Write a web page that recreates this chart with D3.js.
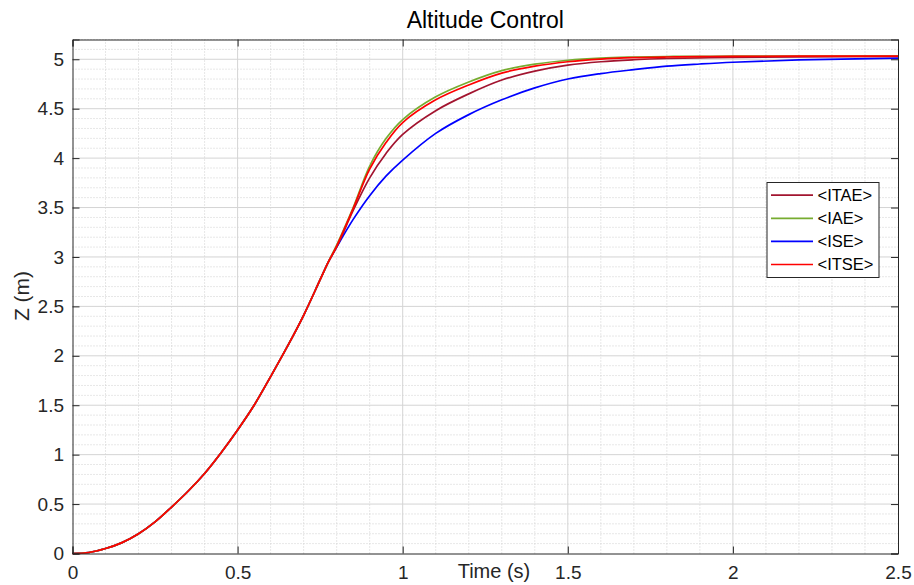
<!DOCTYPE html>
<html>
<head>
<meta charset="utf-8">
<script src="https://cdn.jsdelivr.net/npm/d3@7"></script>
<style>
  body { margin: 0; background: #fff; overflow: hidden; }
  svg { display: block; font-family: "Liberation Sans", Arial, sans-serif; }
</style>
</head>
<body>
<div id="chart"></div>
<script>
// common rise, all four controllers overlap here
const timeShared = [0, 0.05, 0.1, 0.15, 0.2, 0.25, 0.3, 0.35, 0.4, 0.45, 0.5, 0.55, 0.6, 0.65, 0.7, 0.75, 0.775];
const zShared = [0, 0.01, 0.05, 0.11, 0.2, 0.32, 0.47, 0.63, 0.81, 1.02, 1.25, 1.5, 1.79, 2.09, 2.41, 2.77, 2.95];

// after the split
const timeTail = [0.8, 0.85, 0.9, 0.95, 1.0, 1.1, 1.2, 1.3, 1.4, 1.5, 1.6, 1.7, 1.8, 1.9, 2.0, 2.2, 2.5];
const itae = [3.1, 3.47, 3.8, 4.05, 4.24, 4.48, 4.65, 4.79, 4.88, 4.94, 4.975, 4.995, 5.008, 5.015, 5.02, 5.025, 5.03];
const iae  = [3.12, 3.5, 3.92, 4.2, 4.39, 4.62, 4.77, 4.885, 4.95, 4.99, 5.012, 5.022, 5.028, 5.03, 5.032, 5.032, 5.032];
const ise  = [3.1, 3.38, 3.62, 3.82, 3.98, 4.25, 4.44, 4.59, 4.71, 4.8, 4.855, 4.895, 4.93, 4.952, 4.97, 4.993, 5.012];
const itse = [3.11, 3.49, 3.89, 4.16, 4.36, 4.59, 4.74, 4.86, 4.93, 4.975, 5.002, 5.016, 5.023, 5.027, 5.03, 5.031, 5.031];

const seriesNames = ["<ITAE>", "<IAE>", "<ISE>", "<ITSE>"];
const seriesColors = ["#A2142F", "#77AC30", "#0000FF", "#FF0000"];
const seriesValues = [itae, iae, ise, itse];

const xTicks = [0, 0.5, 1, 1.5, 2, 2.5];
const yTicks = [0, 0.5, 1, 1.5, 2, 2.5, 3, 3.5, 4, 4.5, 5];

const width = 914, height = 585;
const margin = { top: 39.5, right: 16, bottom: 31.5, left: 72.5 };
const innerWidth = width - margin.left - margin.right;
const innerHeight = height - margin.top - margin.bottom;

const svg = d3.select("#chart").append("svg")
    .attr("width", width)
    .attr("height", height);

const g = svg.append("g")
    .attr("transform", `translate(${margin.left},${margin.top})`);

const x = d3.scaleLinear().domain([0, 2.5]).range([0, innerWidth]);
const y = d3.scaleLinear().domain([0, 5.2]).range([innerHeight, 0]);

// minor grid (dotted)
const minorX = d3.range(0, 2.5001, 0.1).filter(v => Math.abs(v * 2 - Math.round(v * 2)) > 1e-6);
const minorY = d3.range(0, 5.2001, 0.1).filter(v => Math.abs(v * 2 - Math.round(v * 2)) > 1e-6);

g.append("g").selectAll("line")
    .data(minorX)
    .enter().append("line")
    .attr("x1", d => x(d)).attr("x2", d => x(d))
    .attr("y1", 0).attr("y2", innerHeight)
    .attr("stroke", "#cfcfcf")
    .attr("stroke-dasharray", "1,2");

g.append("g").selectAll("line")
    .data(minorY)
    .enter().append("line")
    .attr("y1", d => y(d)).attr("y2", d => y(d))
    .attr("x1", 0).attr("x2", innerWidth)
    .attr("stroke", "#cfcfcf")
    .attr("stroke-dasharray", "1,2");

// major grid
g.append("g").selectAll("line")
    .data(xTicks.slice(1, -1))
    .enter().append("line")
    .attr("x1", d => x(d)).attr("x2", d => x(d))
    .attr("y1", 0).attr("y2", innerHeight)
    .attr("stroke", "#d4d4d4");

g.append("g").selectAll("line")
    .data(yTicks.slice(1))
    .enter().append("line")
    .attr("y1", d => y(d)).attr("y2", d => y(d))
    .attr("x1", 0).attr("x2", innerWidth)
    .attr("stroke", "#d4d4d4");

// curves
const line = d3.line()
    .x(d => x(d[0]))
    .y(d => y(d[1]))
    .curve(d3.curveCatmullRom.alpha(0.5));

// draw ISE first so the shared rise ends up red on top
const drawOrder = [2, 0, 1, 3];
drawOrder.forEach(i => {
    const pts = timeShared.map((t, k) => [t, zShared[k]])
        .concat(timeTail.map((t, k) => [t, seriesValues[i][k]]));
    g.append("path")
        .datum(pts)
        .attr("fill", "none")
        .attr("stroke", seriesColors[i])
        .attr("stroke-width", 1.7)
        .attr("d", line);
});

// axes, ticks inward on all four sides
const axisColor = "#262626";
const tickLen = 7;

const xAxis = g.append("g")
    .attr("transform", `translate(0,${innerHeight})`)
    .call(d3.axisBottom(x).tickValues(xTicks).tickSize(-tickLen).tickPadding(12).tickFormat(d3.format("")));
const xTop = g.append("g")
    .call(d3.axisTop(x).tickValues(xTicks).tickSize(-tickLen));
const yAxis = g.append("g")
    .call(d3.axisLeft(y).tickValues(yTicks).tickSize(-tickLen).tickPadding(8.5).tickFormat(d3.format("")));
const yRight = g.append("g")
    .attr("transform", `translate(${innerWidth},0)`)
    .call(d3.axisRight(y).tickValues(yTicks).tickSize(-tickLen));

xTop.selectAll("text").remove();
yRight.selectAll("text").remove();

[xAxis, xTop, yAxis, yRight].forEach(a => {
    a.select(".domain").attr("stroke", axisColor).attr("stroke-width", 1);
    a.selectAll(".tick line").attr("stroke", axisColor);
    a.selectAll("text")
        .attr("fill", axisColor)
        .attr("font-size", "19px")
        .attr("font-family", "'Liberation Sans', Arial, sans-serif");
});
xAxis.selectAll("text").attr("dy", "0.71em");

// title and labels
svg.append("text")
    .attr("x", margin.left + innerWidth / 2)
    .attr("y", 28)
    .attr("text-anchor", "middle")
    .attr("font-size", "23px")
    .attr("fill", "#000")
    .text("Altitude Control");

svg.append("text")
    .attr("x", 494)
    .attr("y", 578)
    .attr("text-anchor", "middle")
    .attr("font-size", "20px")
    .attr("fill", axisColor)
    .text("Time (s)");

svg.append("text")
    .attr("transform", `translate(29,296) rotate(-90)`)
    .attr("text-anchor", "middle")
    .attr("font-size", "21px")
    .attr("fill", axisColor)
    .text("Z (m)");

// legend
const legend = svg.append("g")
    .attr("transform", "translate(767,182.5)");

legend.append("rect")
    .attr("width", 112)
    .attr("height", 95)
    .attr("fill", "#fff")
    .attr("stroke", axisColor)
    .attr("stroke-width", 1);

const rowY = d3.scalePoint().domain(seriesNames).range([12.7, 82]);

seriesNames.forEach((name, i) => {
    legend.append("line")
        .attr("x1", 4).attr("x2", 46)
        .attr("y1", rowY(name)).attr("y2", rowY(name))
        .attr("stroke", seriesColors[i])
        .attr("stroke-width", 1.7);
    legend.append("text")
        .attr("x", 50.5)
        .attr("y", rowY(name))
        .attr("dy", "0.36em")
        .attr("font-size", "16.5px")
        .attr("fill", "#000")
        .text(name);
});
</script>
</body>
</html>
